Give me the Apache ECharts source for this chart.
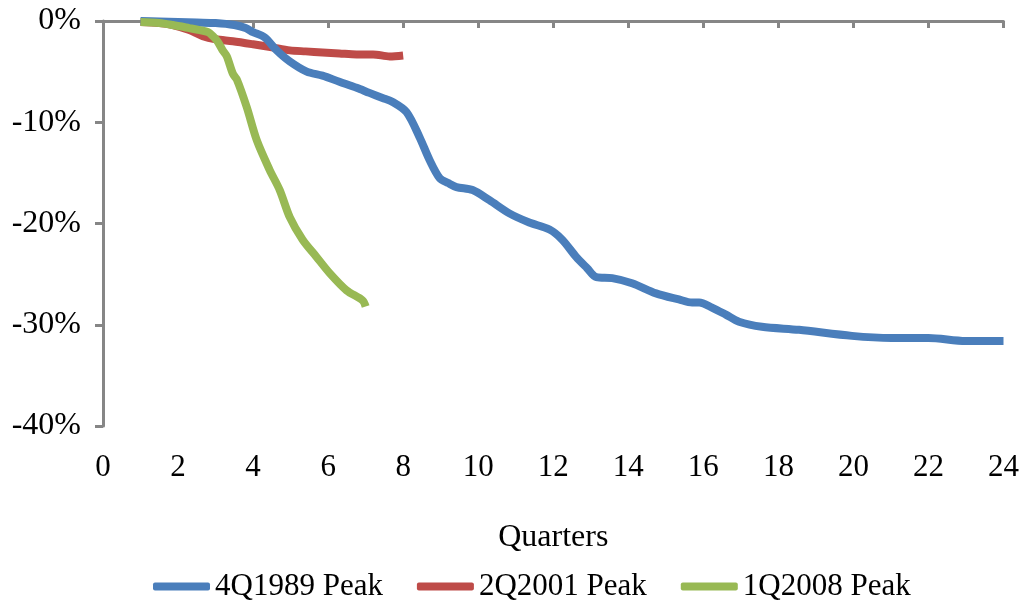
<!DOCTYPE html>
<html>
<head>
<meta charset="utf-8">
<script src="https://cdn.jsdelivr.net/npm/echarts@6/dist/echarts.min.js"></script>
<style>html,body{margin:0;padding:0;background:#fff}#c{width:1022px;height:602px}</style>
</head>
<body>
<div id="c"></div>
<script>
// Quarters after peak (x) and cumulative change in % (y)
var xTicks = [0, 2, 4, 6, 8, 10, 12, 14, 16, 18, 20, 22, 24];
var yTicks = [0, -10, -20, -30, -40];

var names = ['4Q1989 Peak', '2Q2001 Peak', '1Q2008 Peak'];

var q1989 = [1, 1.5, 2, 2.5, 3, 3.5, 3.8, 4, 4.3, 4.63, 4.98, 5.43, 5.85, 6.3, 6.76, 7.1, 7.45, 7.72, 8.09, 8.44, 8.7, 8.97, 9.2, 9.42, 9.85, 10.3, 10.83, 11.36, 11.9, 12.24, 12.61, 12.9, 13.15, 13.57, 14.1, 14.74, 15.35, 15.7, 15.89, 16.23, 16.6, 16.95, 17.56, 18.55, 19.96, 21.02, 22.0, 22.99, 24];
var v1989 = [0, -0.05, -0.1, -0.15, -0.2, -0.4, -0.7, -1.1, -1.6, -2.9, -4.0, -5.0, -5.4, -6.0, -6.6, -7.1, -7.6, -8.0, -9.0, -11.5, -13.7, -15.5, -16.0, -16.4, -16.7, -17.7, -19.0, -19.9, -20.6, -21.6, -23.3, -24.4, -25.3, -25.4, -25.9, -26.9, -27.5, -27.8, -27.8, -28.3, -29.0, -29.7, -30.2, -30.5, -31.1, -31.3, -31.3, -31.6, -31.6];

var q2001 = [1, 1.5, 1.86, 2.3, 2.66, 3, 3.46, 4, 4.5, 4.98, 5.4, 5.85, 6.3, 6.76, 7.2, 7.64, 8];
var v2001 = [-0.1, -0.2, -0.4, -0.9, -1.5, -1.8, -2.0, -2.3, -2.6, -2.9, -3.0, -3.1, -3.2, -3.3, -3.3, -3.5, -3.4];

var q2008 = [1, 1.5, 1.86, 2.3, 2.58, 2.8, 2.93, 3.05, 3.19, 3.3, 3.46, 3.57, 3.83, 4.1, 4.44, 4.71, 4.98, 5.32, 5.69, 6.04, 6.49, 6.92, 7];
var v2008 = [-0.1, -0.2, -0.4, -0.7, -0.9, -1.1, -1.5, -2.0, -2.9, -3.5, -5.2, -5.8, -8.5, -11.8, -14.7, -16.7, -19.4, -21.6, -23.3, -24.9, -26.6, -27.6, -28.2];

var colors = ['#4A7EBB', '#BE4B48', '#98B954'];

function pairs(xs, ys) { return xs.map(function (x, i) { return [x, ys[i]]; }); }

var FONT = '"Liberation Serif", "Times New Roman", serif';
var axisColor = '#868686';

var chart = echarts.init(document.getElementById('c'), null, {renderer: 'canvas'});
chart.setOption({
  animation: false,
  color: colors,
  textStyle: {fontFamily: FONT},
  grid: {left: 103, right: 17, top: 21, bottom: 176, containLabel: false},
  legend: {
    left: 148, top: 566,
    itemWidth: 57, itemHeight: 8, itemGap: 34,
    icon: 'roundRect',
    textStyle: {fontFamily: FONT, fontSize: 31, color: '#000', padding: [0, 0, 0, 0]},
    data: names
  },
  xAxis: [{
    type: 'value', position: 'bottom', min: 0, max: 24, interval: 2,
    axisLine: {show: false}, axisTick: {show: false}, splitLine: {show: false},
    axisLabel: {fontFamily: FONT, fontSize: 31, color: '#000', margin: 26,
      formatter: function (v) { return xTicks.indexOf(v) >= 0 ? String(v) : ''; }},
    name: 'Quarters', nameLocation: 'middle', nameGap: 96,
    nameTextStyle: {fontFamily: FONT, fontSize: 32, color: '#000'}
  }, {
    type: 'value', position: 'top', min: 0, max: 24, interval: 2,
    axisLine: {show: true, lineStyle: {color: axisColor, width: 3}},
    axisTick: {show: true, inside: true, length: 7, lineStyle: {color: axisColor, width: 3}},
    axisLabel: {show: false}, splitLine: {show: false}
  }],
  yAxis: {
    type: 'value', min: -40, max: 0, interval: 10,
    axisLine: {show: true, onZero: false, lineStyle: {color: axisColor, width: 3}},
    axisTick: {show: true, length: 8, lineStyle: {color: axisColor, width: 3}},
    splitLine: {show: false},
    axisLabel: {fontFamily: FONT, fontSize: 32, color: '#000', margin: 22,
      formatter: function (v) { return yTicks.indexOf(v) >= 0 ? v + '%' : ''; }}
  },
  series: [
    {name: names[0], type: 'line', data: pairs(q1989, v1989), showSymbol: false, symbol: 'none', smooth: 0.3,
     lineStyle: {width: 8, color: colors[0], cap: 'butt', join: 'round'}, z: 3},
    {name: names[1], type: 'line', data: pairs(q2001, v2001), showSymbol: false, symbol: 'none', smooth: 0.3,
     lineStyle: {width: 8, color: colors[1], cap: 'butt', join: 'round'}, z: 2},
    {name: names[2], type: 'line', data: pairs(q2008, v2008), showSymbol: false, symbol: 'none', smooth: 0.3,
     lineStyle: {width: 8, color: colors[2], cap: 'butt', join: 'round'}, z: 4}
  ]
});
</script>
</body>
</html>
